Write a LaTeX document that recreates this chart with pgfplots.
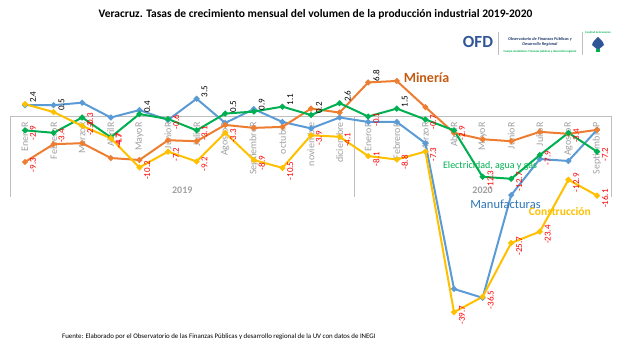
\documentclass[border=0pt]{standalone}
\usepackage{pgfplots}
\pgfplotsset{compat=1.18}
\usepackage{fontspec}
\setmainfont{Carlito}
\definecolor{cOr}{HTML}{ED7D31}
\definecolor{cGr}{HTML}{00B050}
\definecolor{cBl}{HTML}{5B9BD5}
\definecolor{cYe}{HTML}{FFC000}
\definecolor{tOr}{HTML}{C55A11}
\definecolor{tBl}{HTML}{2E75B6}
\definecolor{axg}{HTML}{BFBFBF}
\definecolor{tkg}{HTML}{A0A0A0}
\definecolor{ofd}{HTML}{2F5597}
\newcommand{\lbl}{\pgfmathfloatifflags{\pgfplotspointmeta}{2}%
  {\textcolor{red}{\pgfmathprintnumber{\pgfplotspointmeta}}\hspace*{6pt}}%
  {\hspace*{14pt}\pgfmathprintnumber{\pgfplotspointmeta}}}
\begin{document}
\begin{tikzpicture}[x=1pt,y=1pt]
\useasboundingbox (0,0) rectangle (632,354);
% title
\node[font=\fontsize{11.5}{12}\selectfont\bfseries] at (315.5,340) {Veracruz. Tasas de crecimiento mensual del volumen de la producción industrial 2019-2020};
% footer
\node[anchor=west, font=\fontsize{6.9}{7}\selectfont, inner sep=0pt] at (62,17) {Fuente: Elaborado por el Observatorio de las Finanzas Públicas y desarrollo regional de la UV con datos de INEGI};
% logo
\node[font=\fontsize{17}{17}\selectfont\bfseries, text=ofd] at (478,312) {OFD};
\draw[axg, line width=0.5pt] (498,299) -- (498,322);
\draw[axg, line width=0.5pt] (582,299) -- (582,322);
\node[font=\fontsize{4.3}{4.5}\selectfont\bfseries\itshape, text=ofd!70!black, align=center] at (540,312) {Observatorio de Finanzas Públicas y\\Desarrollo Regional};
\node[font=\fontsize{3}{3}\selectfont\bfseries, text=cGr] at (540,302) {Cuerpo Académico: Finanzas públicas y desarrollo regional};
\node[font=\fontsize{2.8}{3}\selectfont\bfseries, text=cGr] at (598,321) {Facultad de Economía};
\fill[ofd] (598,304) -- (592,309) .. controls (593,314) and (596,314) .. (598,317) .. controls (600,314) and (603,314) .. (604,309) -- cycle;
\fill[cGr] (596,302) rectangle (600,305);
\begin{axis}[
  at={(10.7pt,20.6pt)}, anchor=south west,
  scale only axis, width=600.6pt, height=256.9pt,
  xmin=-0.5, xmax=20.5, ymin=-44, ymax=8,
  axis x line=middle, axis y line=none,
  x axis line style={draw=axg, line width=0.8pt, -},
  xtick={0,...,20},
  xticklabels={EneroR,FebreroR,MarzoR,AbrilR,MayoR,JunioR,JulioR,AgostoR,SeptiembreR,octubre,noviembre,diciembre,EneroR,FebreroR,MarzoR,AbrilR,MayoR,JunioR,JulioR,AgostoR,SeptiembreP},
  xtick style={draw=none},
  xticklabel style={yshift=-3pt, rotate=90, anchor=east, text=tkg, font=\fontsize{10}{10}\selectfont, inner sep=1pt},
  ytick=\empty,
  clip=false,
  every axis plot/.append style={line width=2pt, mark=*, mark size=1.8pt},
  /pgf/number format/.cd, fixed, fixed zerofill, precision=1, assume math mode=true,
  /pgfplots/.cd,
  every node near coord/.append style={xshift=3pt, rotate=90, anchor=north, inner sep=1pt, text=black, font=\fontsize{9}{9}\selectfont},
]
% separators of the category axis
\draw[axg, line width=0.8pt] (axis cs:-0.5,0) -- (axis cs:-0.5,-16.4);
\draw[axg, line width=0.8pt] (axis cs:11.5,0) -- (axis cs:11.5,-16.4);
\draw[axg, line width=0.8pt] (axis cs:20.5,0) -- (axis cs:20.5,-16.4);
\node[text=tkg, font=\fontsize{10}{10}\selectfont\bfseries] at (axis cs:5.5,-15.0) {2019};
\node[text=tkg, font=\fontsize{10}{10}\selectfont\bfseries] at (axis cs:16,-15.0) {2020};

% Manufacturas
\addplot[cBl] coordinates {(0,2.2) (1,2.2) (2,2.7) (3,-0.3) (4,1.2) (5,-0.8) (6,3.5) (7,-1.4) (8,1.4) (9,-1.2) (10,-2.5) (11,-0.3) (12,-1.2) (13,-1.2) (14,-5.5) (15,-35.0) (16,-36.8) (17,-16.0) (18,-8.7) (19,-9.1) (20,-2.8)};
% Mineria
\addplot[cOr] coordinates {(0,-9.3) (1,-5.7) (2,-5.5) (3,-8.5) (4,-8.9) (5,-4.9) (6,-5.1) (7,-1.8) (8,-2.4) (9,-2.2) (10,1.5) (11,0.7) (12,6.8) (13,7.1) (14,1.8) (15,-3.4) (16,-4.7) (17,-5.1) (18,-3.2) (19,-3.6) (20,-2.8)};
% Electricidad, agua y gas
\addplot[cGr] coordinates {(0,-2.9) (1,-3.4) (2,-0.3) (3,-4.3) (4,0.4) (5,-0.6) (6,-2.9) (7,0.5) (8,0.9) (9,1.9) (10,0.2) (11,2.6) (12,-0.1) (13,1.5) (14,-0.7) (15,-2.9) (16,-12.3) (17,-12.7) (18,-7.9) (19,-3.4) (20,-7.2)};
% Construccion
\addplot[cYe] coordinates {(0,2.4) (1,0.8) (2,-2.0) (3,-4.5) (4,-10.4) (5,-7.2) (6,-9.2) (7,-3.4) (8,-8.9) (9,-10.5) (10,-3.9) (11,-4.2) (12,-8.1) (13,-8.8) (14,-7.2) (15,-39.7) (16,-36.6) (17,-25.7) (18,-23.4) (19,-12.9) (20,-16.1)};

% data labels
\addplot[draw=none, mark=none, nodes near coords=\lbl, point meta=explicit] coordinates {(0,-2.9)[-2.9] (1,-3.4)[-3.4] (2,-0.3)[-0.3] (3,-4.3)[-4.7] (4,0.4)[0.4] (5,-0.6)[-0.6] (6,-2.9)[-3.1] (7,0.5)[0.5] (8,0.9)[0.9] (9,1.9)[1.1] (10,0.2)[0.2] (11,2.6)[2.6] (12,-0.1)[-0.1] (13,1.5)[1.5] (14,-0.7)[-0.7] (15,-2.9)[-2.9] (16,-12.3)[-12.3] (17,-12.7)[-12.7] (18,-7.9)[-7.9] (19,-3.4)[-3.4] (20,-7.2)[-7.2]};
\addplot[draw=none, mark=none, nodes near coords=\lbl, point meta=explicit] coordinates {(0,2.4)[2.4] (1,0.8)[0.5] (2,-2.0)[-2.3] (3,-4.5)[-4.7] (4,-10.4)[-10.2] (5,-7.2)[-7.2] (6,-9.2)[-9.2] (7,-3.4)[-3.3] (8,-8.9)[-8.9] (9,-10.5)[-10.5] (10,-3.9)[-3.9] (11,-4.2)[-4.1] (12,-8.1)[-8.1] (13,-8.8)[-8.8] (14,-7.2)[-7.3] (15,-39.7)[-39.7] (16,-36.6)[-36.5] (17,-25.7)[-25.7] (18,-23.4)[-23.4] (19,-12.9)[-12.9] (20,-16.1)[-16.1]};
\addplot[draw=none, mark=none, nodes near coords=\lbl, point meta=explicit] coordinates {(0,-9.3)[-9.3] (12,6.8)[6.8] (6,3.5)[3.5]};

% series names
\node[font=\fontsize{14}{14}\selectfont\bfseries, text=tOr] at (axis cs:14.04,7.8) {Minería};
\node[font=\fontsize{10}{10}\selectfont, text=cGr] at (axis cs:16.26,-10.1) {Electricidad, agua y gas};
\node[font=\fontsize{12.5}{12}\selectfont, text=tBl] at (axis cs:16.8,-17.8) {Manufacturas};
\node[font=\fontsize{11.5}{12}\selectfont\bfseries, text=cYe] at (axis cs:18.7,-19.4) {Construcción};
\end{axis}
\end{tikzpicture}
\end{document}
